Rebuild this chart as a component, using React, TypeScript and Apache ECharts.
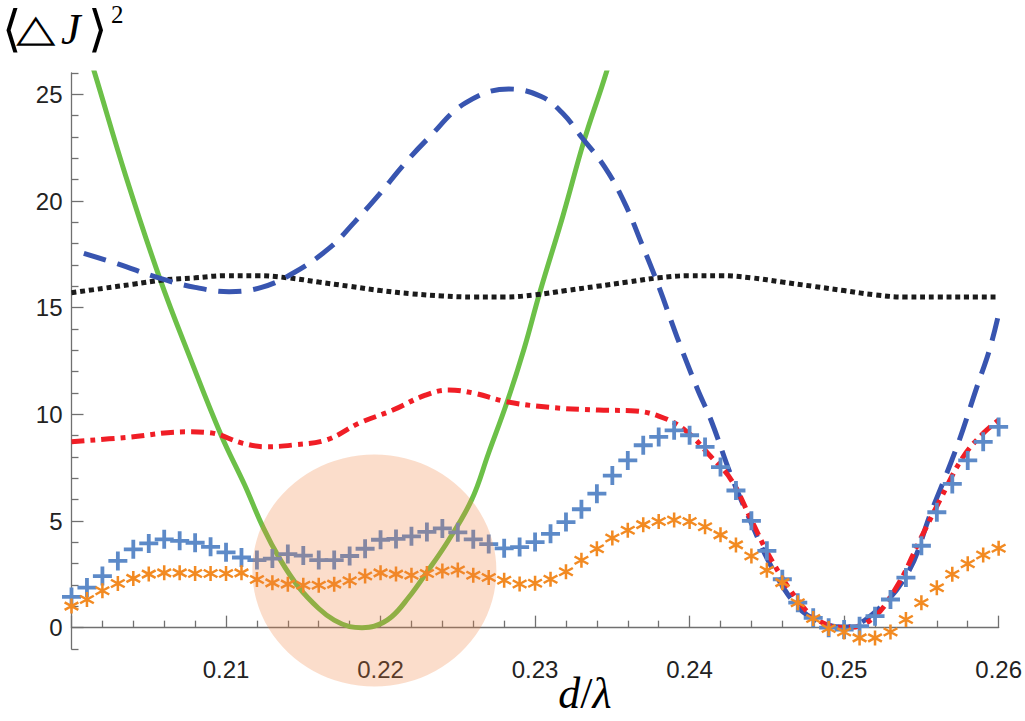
import React, { useEffect, useRef } from "react";
import * as echarts from "echarts";

// ---- axes ----
const X_MIN = 0.2;
const X_MAX = 0.26;
const Y_MIN = -1;
const Y_MAX = 26;
const X_LABELS = [0.21, 0.22, 0.23, 0.24, 0.25, 0.26];
const X_MAJOR_TICKS = [0.2, 0.21, 0.22, 0.23, 0.24, 0.25, 0.26];
const X_MINOR_TICKS = [
  0.202, 0.204, 0.206, 0.208, 0.212, 0.214, 0.216, 0.218, 0.222, 0.224, 0.226, 0.228,
  0.232, 0.234, 0.236, 0.238, 0.242, 0.244, 0.246, 0.248, 0.252, 0.254, 0.256, 0.258,
];
const Y_LABELS = [0, 5, 10, 15, 20, 25];
const Y_MINOR_TICKS = [
  -1, 1, 2, 3, 4, 6, 7, 8, 9, 11, 12, 13, 14, 16, 17, 18, 19, 21, 22, 23, 24, 26,
];

// ---- green solid curve ----
const GREEN_X = [
  0.2, 0.2015, 0.2035, 0.2057, 0.2077, 0.2097, 0.2112, 0.2124, 0.2135, 0.2147, 0.216,
  0.217, 0.218, 0.2188, 0.2196, 0.2207, 0.2218, 0.2229, 0.2244, 0.2259, 0.227, 0.2282,
  0.2293, 0.2303, 0.2318, 0.2332, 0.2346, 0.2356,
];
const GREEN_Y = [
  29.5, 26.0, 21.2, 16.4, 12.6, 9.0, 6.7, 4.7, 3.2, 1.9, 0.9, 0.35, 0.05, 0.0, 0.07, 0.5,
  1.4, 2.5, 4.1, 6.0, 8.2, 10.6, 13.1, 15.7, 19.3, 22.9, 26.0, 28.6,
];

// ---- black dotted curve ----
const BLACK_X = [
  0.2, 0.202, 0.204, 0.206, 0.208, 0.21, 0.212, 0.214, 0.216, 0.218, 0.22, 0.222, 0.224,
  0.226, 0.228, 0.23, 0.232, 0.234, 0.236, 0.238, 0.24, 0.242, 0.244, 0.246, 0.248, 0.25,
  0.252, 0.254, 0.256, 0.258, 0.26,
];
const BLACK_Y = [
  15.7, 15.9, 16.1, 16.3, 16.4, 16.5, 16.5, 16.4, 16.2, 16.0, 15.8, 15.65, 15.55, 15.5,
  15.5, 15.6, 15.8, 16.0, 16.2, 16.4, 16.5, 16.5, 16.4, 16.2, 16.0, 15.8, 15.6, 15.5, 15.5,
  15.5, 15.5,
];

// ---- blue dashed curve ----
const BLUE_X = [
  0.2008, 0.203, 0.2057, 0.208, 0.2102, 0.2123, 0.2143, 0.2167, 0.2183, 0.2199, 0.2215,
  0.2231, 0.2255, 0.2283, 0.2304, 0.2318, 0.233, 0.2345, 0.2358, 0.2369, 0.238, 0.2392,
  0.2405, 0.2414, 0.2427, 0.244, 0.2453, 0.247, 0.2485, 0.25, 0.2519, 0.2541, 0.2556,
  0.2573, 0.2586, 0.2594, 0.26,
];
const BLUE_Y = [
  17.55, 17.05, 16.38, 15.95, 15.75, 15.95, 16.6, 17.8, 19.0, 20.3, 21.7, 22.95, 24.6,
  25.25, 24.9, 24.1, 23.0, 21.6, 19.9, 18.0, 16.0, 13.6, 11.2, 9.7, 7.1, 4.9, 2.85, 0.98,
  0.25, 0.03, 0.67, 2.54, 5.36, 8.48, 11.3, 13.0, 14.7,
];

// ---- red dash-dot curve ----
const RED_X = [
  0.2, 0.2036, 0.2074, 0.2089, 0.2111, 0.2126, 0.2143, 0.2165, 0.2186, 0.2208, 0.2229,
  0.2244, 0.226, 0.2281, 0.2309, 0.2341, 0.2362, 0.238, 0.2397, 0.2414, 0.2427, 0.244,
  0.2453, 0.247, 0.2483, 0.25, 0.2517, 0.2534, 0.2549, 0.2562, 0.2577, 0.259, 0.26,
];
const RED_Y = [
  8.72, 8.92, 9.18, 9.14, 8.64, 8.48, 8.56, 8.8, 9.58, 10.2, 10.9, 11.14, 11.0, 10.6,
  10.33, 10.2, 10.17, 9.92, 9.26, 8.0, 6.92, 5.04, 3.17, 1.29, 0.35, 0.0, 0.35, 1.91, 4.1,
  5.98, 8.0, 9.11, 9.73,
];

// ---- markers, one per 0.001 from 0.200 to 0.260 ----
const MARKER_X = Array.from({ length: 61 }, (_, i) => (200 + i) / 1000);
const CROSS_Y = [
  1.44, 1.88, 2.42, 3.13, 3.67, 3.95, 4.14, 4.07, 3.98, 3.79, 3.53, 3.29, 3.17, 3.24, 3.45,
  3.38, 3.17, 3.17, 3.36, 3.7, 4.12, 4.16, 4.28, 4.49, 4.65, 4.47, 4.14, 3.92, 3.72, 3.78,
  4.01, 4.4, 4.95, 5.55, 6.28, 7.13, 7.84, 8.55, 8.94, 9.25, 9.02, 8.47, 7.53, 6.43, 5.01,
  3.6, 2.27, 1.17, 0.46, 0.0, -0.09, 0.07, 0.54, 1.32, 2.35, 3.84, 5.41, 6.74, 7.84, 8.71,
  9.41,
];
const STAR_Y = [
  1.01, 1.32, 1.73, 2.07, 2.31, 2.51, 2.57, 2.57, 2.54, 2.54, 2.54, 2.57, 2.26, 2.1, 2.04,
  1.99, 1.99, 2.04, 2.2, 2.42, 2.57, 2.51, 2.46, 2.54, 2.66, 2.7, 2.46, 2.35, 2.22, 2.05,
  2.08, 2.27, 2.62, 3.16, 3.7, 4.2, 4.57, 4.83, 4.98, 5.05, 4.98, 4.73, 4.35, 3.88, 3.36,
  2.69, 2.11, 1.17, 0.43, -0.04, -0.2, -0.48, -0.48, -0.2, 0.38, 1.17, 1.87, 2.5, 3.0,
  3.41, 3.72,
];

// ---- highlight disc (data coordinates) ----
const DISC_CENTER = [0.2196, 2.68];

const PLUS_PATH = "path://M6.4,0H9.6V6.4H16V9.6H9.6V16H6.4V9.6H0V6.4H6.4Z";
const STAR_PATH =
  "path://M8.4,0L11.6,0L11.6,20L8.4,20Z" +
  "M17.86,3.62L19.46,6.38L2.14,16.38L0.54,13.62Z" +
  "M0.54,6.38L2.14,3.62L19.46,13.62L17.86,16.38Z";

const pairs = (xs: number[], ys: number[]) => xs.map((x, i) => [x, ys[i]]);

export default function App() {
  const ref = useRef<HTMLDivElement>(null);
  useEffect(() => {
    if (!ref.current) return;
    const chart = echarts.init(ref.current, null, { renderer: "svg" });
    const axisColor = "#707070";
    const labelStyle = {
      fontFamily: "'Liberation Sans', Arial, sans-serif",
      fontSize: 24,
      color: "#222",
    };
    const tickLine = { color: axisColor, width: 1.3 };
    const sym = "'DejaVu Sans', sans-serif";
    chart.setOption({
      animation: false,
      backgroundColor: "#ffffff",
      grid: { left: 71.5, right: 23, top: 73, bottom: 72, containLabel: false },
      xAxis: [
        {
          type: "value",
          min: X_MIN,
          max: X_MAX,
          position: "bottom",
          axisLine: { show: true, onZero: true, lineStyle: tickLine },
          axisTick: { show: true, inside: true, length: 12, customValues: X_MAJOR_TICKS, lineStyle: tickLine },
          axisLabel: {
            show: true,
            customValues: X_LABELS,
            margin: 8,
            lineHeight: 24,
            formatter: (v: number) => v.toFixed(2),
            ...labelStyle,
          },
          splitLine: { show: false },
        },
        {
          type: "value",
          min: X_MIN,
          max: X_MAX,
          position: "bottom",
          axisLine: { show: false, onZero: true },
          axisTick: { show: true, inside: true, length: 7, customValues: X_MINOR_TICKS, lineStyle: tickLine },
          axisLabel: { show: false },
          splitLine: { show: false },
        },
      ],
      yAxis: [
        {
          type: "value",
          min: Y_MIN,
          max: Y_MAX,
          position: "left",
          axisLine: { show: true, onZero: false, lineStyle: tickLine },
          axisTick: { show: true, inside: true, length: 12, customValues: Y_LABELS, lineStyle: tickLine },
          axisLabel: { show: true, customValues: Y_LABELS, margin: 9, ...labelStyle },
          splitLine: { show: false },
        },
        {
          type: "value",
          min: Y_MIN,
          max: Y_MAX,
          position: "left",
          axisLine: { show: false, onZero: false },
          axisTick: { show: true, inside: true, length: 7, customValues: Y_MINOR_TICKS, lineStyle: tickLine },
          axisLabel: { show: false },
          splitLine: { show: false },
        },
      ],
      series: [
        {
          type: "line",
          data: pairs(GREEN_X, GREEN_Y),
          smooth: 0.4,
          symbol: "none",
          clip: true,
          lineStyle: { color: "#6cc048", width: 5 },
          z: 2,
        },
        {
          type: "line",
          data: pairs(BLACK_X, BLACK_Y),
          smooth: 0.4,
          symbol: "none",
          lineStyle: { color: "#1b1b1b", width: 5, type: [5, 3.8], cap: "butt" },
          z: 3,
        },
        {
          type: "line",
          data: pairs(BLUE_X, BLUE_Y),
          smooth: 0.4,
          symbol: "none",
          lineStyle: { color: "#3855b0", width: 5, type: [23, 12], cap: "butt" },
          z: 3,
        },
        {
          type: "line",
          data: pairs(RED_X, RED_Y),
          smooth: 0.4,
          symbol: "none",
          lineStyle: { color: "#f01e26", width: 5, type: [13, 6, 5, 6], cap: "butt" },
          z: 4,
        },
        {
          type: "scatter",
          data: pairs(MARKER_X, CROSS_Y),
          symbol: PLUS_PATH,
          symbolSize: 19,
          clip: false,
          itemStyle: { color: "#5d8ac8", opacity: 1 },
          z: 5,
        },
        {
          type: "scatter",
          data: pairs(MARKER_X, STAR_Y),
          symbol: STAR_PATH,
          symbolSize: 15,
          clip: false,
          itemStyle: { color: "#f28a22", opacity: 1 },
          z: 6,
        },
        {
          type: "scatter",
          data: [DISC_CENTER],
          symbol: "circle",
          symbolSize: [244, 232],
          clip: false,
          silent: true,
          itemStyle: { color: "rgba(240,128,64,0.34)" },
          z: 10,
        },
      ],
      graphic: [
        {
          type: "text",
          x: 2,
          y: 29,
          style: {
            text: "⟨",
            font: `200 50px ${sym}`,
            lineHeight: 50,
            fill: "#000",
            verticalAlign: "middle",
          },
        },
        {
          type: "text",
          x: 16,
          y: 28,
          scaleY: 0.74,
          style: {
            text: "△",
            font: `200 52px ${sym}`,
            lineHeight: 52,
            fill: "#000",
            verticalAlign: "middle",
          },
        },
        {
          type: "text",
          x: 61,
          y: 29,
          style: {
            text: "J",
            font: "italic 44px 'Liberation Serif', serif",
            lineHeight: 44,
            fill: "#000",
            verticalAlign: "middle",
          },
        },
        {
          type: "text",
          x: 88,
          y: 29,
          style: {
            text: "⟩",
            font: `200 50px ${sym}`,
            lineHeight: 50,
            fill: "#000",
            verticalAlign: "middle",
          },
        },
        {
          type: "text",
          x: 111,
          y: 2,
          style: { text: "2", font: "25px 'Liberation Serif', serif", fill: "#000" },
        },
        {
          type: "text",
          x: 585,
          y: 693,
          style: {
            text: "{i|d}{n|/}{i|λ}",
            align: "center",
            verticalAlign: "middle",
            rich: {
              i: {
                fontFamily: "'Liberation Serif', serif",
                fontStyle: "italic",
                fontSize: 44,
                lineHeight: 48,
                fill: "#000",
              },
              n: { fontFamily: "'Liberation Serif', serif", fontSize: 44, lineHeight: 48, fill: "#000" },
            },
          },
        },
      ],
    });
    return () => chart.dispose();
  }, []);
  return (
    <div
      ref={ref}
      style={{ position: "fixed", left: 0, top: 0, width: 1025, height: 721, background: "#fff" }}
    />
  );
}
